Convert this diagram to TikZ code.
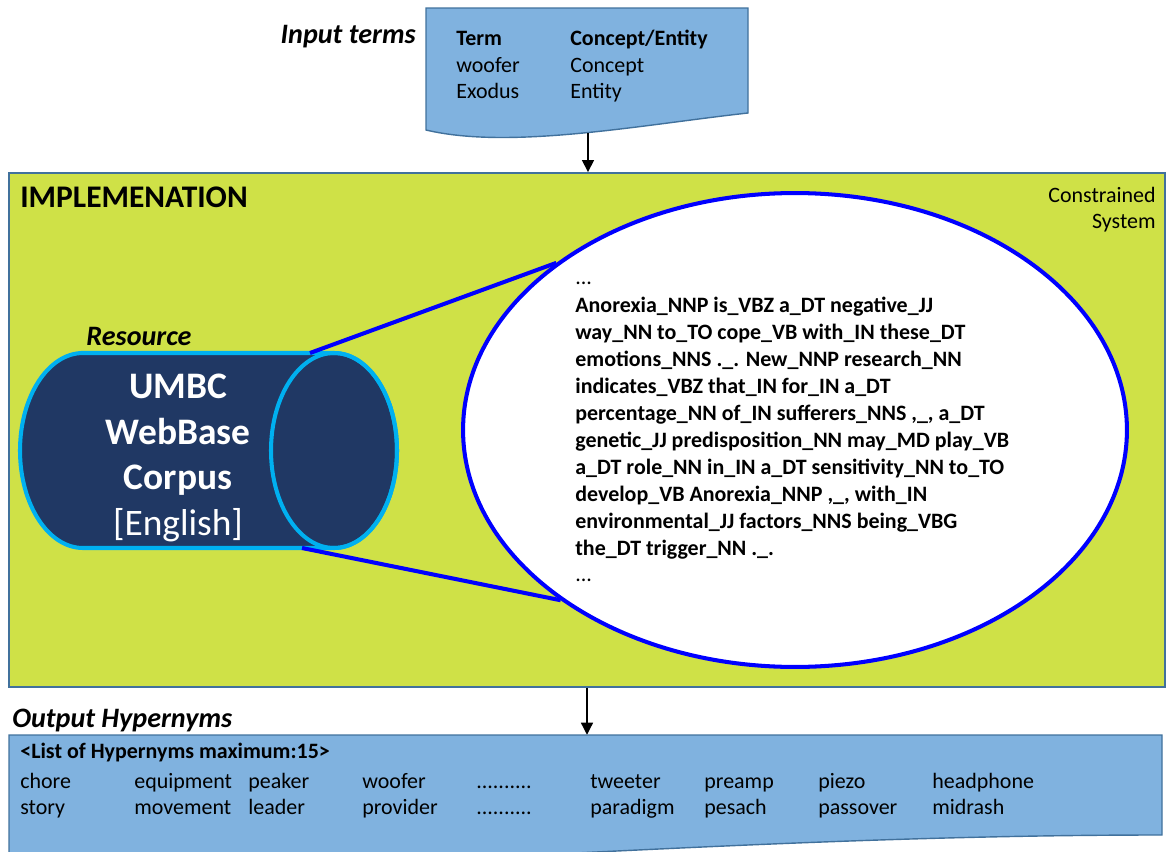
\documentclass[tikz,border=0pt]{standalone}
\usepackage{fontspec}
\setmainfont{Carlito}
\usetikzlibrary{shapes.geometric}
\usetikzlibrary{arrows.meta}
\definecolor{docblue}{RGB}{128,178,223}
\definecolor{edgeblue}{RGB}{65,113,156}
\definecolor{limefill}{RGB}{207,225,71}
\definecolor{corpusnavy}{RGB}{32,56,100}
\definecolor{rimcyan}{RGB}{0,176,240}
\definecolor{zoomblue}{RGB}{0,0,255}
\tikzstyle{txt}=[inner sep=0pt, anchor=base west, font=\fontsize{12.5}{15}\selectfont]
\tikzstyle{btxt}=[txt, font=\fontsize{12.5}{15}\selectfont\bfseries]
\tikzstyle{lbl}=[inner sep=0pt, anchor=base west, font=\fontsize{16}{19}\selectfont\bfseries\itshape]
\tikzstyle{flow}=[-{Triangle[length=7pt,width=6.5pt]}, line width=1.7pt, black]
\tikzstyle{wave}=[fill=docblue, draw=edgeblue, line width=0.8pt]

\begin{document}
\begin{tikzpicture}[x=0.02cm, y=0.02cm]
        \useasboundingbox (0,0) rectangle (1167,-852);
        \clip (0,0) rectangle (1167,-852);
        % input terms
        \path[wave] (426,-8) -- (748,-8) -- (748,-113) .. controls (640,-125) and (510,-150) .. (426,-130) -- cycle;
        \node[lbl, anchor=base east] (inlbl) at (416,-43) {Input terms};
        \node[btxt] (termhd) at (456,-46) {Term};
        \node[btxt] (kindhd) at (570,-46) {Concept/Entity};
        \node[txt] (term1) at (456,-72) {woofer};
        \node[txt] (kind1) at (570,-72) {Concept};
        \node[txt] (term2) at (456,-98) {Exodus};
        \node[txt] (kind2) at (570,-98) {Entity};
        \coordinate (docout) at (588,-133);
        % implementation
        \node[draw=edgeblue, fill=limefill, line width=0.8pt, inner sep=0pt, minimum width=23.12cm, minimum height=10.28cm] (impl) at (587,-430) {};
        \draw[flow] (docout) -- (docout |- impl.north);
        \node[inner sep=0pt, anchor=base west, font=\fontsize{17.9}{21}\selectfont\bfseries] (impltitle) at (20,-207) {IMPLEMENATION};
        \node[txt, anchor=base east] (cons1) at (1156,-202) {Constrained};
        \node[txt, anchor=base east] (cons2) at (1156,-228) {System};
        % resource
        \node[lbl, anchor=base] (reslbl) at (139,-345) {Resource};
        \path[fill=corpusnavy, draw=rimcyan, line width=2.3pt] (83,-353) -- (334,-353) arc[start angle=90, end angle=-90, x radius=63, y radius=97.5] -- (83,-548) arc[start angle=270, end angle=90, x radius=63, y radius=97.5] -- cycle;
        \draw[rimcyan, line width=2.3pt] (334,-450.5) ellipse[x radius=63, y radius=97.5];
        \node[text=white, align=center, inner sep=0pt, font=\fontsize{21.3}{26.1}\selectfont\bfseries] (corpus) at (178,-458) {UMBC\\WebBase\\Corpus\\{\mdseries [English]}};
        \coordinate (cyltop) at (310,-353);
        \coordinate (cylbot) at (302,-548);
        % tagged text
        \node[ellipse, draw=zoomblue, fill=white, line width=2.3pt, inner sep=0pt, minimum width=13.28cm, minimum height=9.48cm] (zoom) at (795,-430) {};
        \draw[zoomblue, line width=2.3pt] (cyltop) -- (zoom.145);
        \draw[zoomblue, line width=2.3pt] (cylbot) -- (zoom.216);
        \node[txt] (dots1) at (575,-284) {...};
        \node[btxt] (line1) at (575,-312) {Anorexia\_NNP is\_VBZ a\_DT negative\_JJ};
        \node[btxt] (line2) at (575,-339) {way\_NN to\_TO cope\_VB with\_IN these\_DT};
        \node[btxt] (line3) at (575,-366) {emotions\_NNS .\_. New\_NNP research\_NN};
        \node[btxt] (line4) at (575,-393) {indicates\_VBZ that\_IN for\_IN a\_DT};
        \node[btxt] (line5) at (575,-420) {percentage\_NN of\_IN sufferers\_NNS ,\_, a\_DT};
        \node[btxt] (line6) at (575,-447) {genetic\_JJ predisposition\_NN may\_MD play\_VB};
        \node[btxt] (line7) at (575,-474) {a\_DT role\_NN in\_IN a\_DT sensitivity\_NN to\_TO};
        \node[btxt] (line8) at (575,-501) {develop\_VB Anorexia\_NNP ,\_, with\_IN};
        \node[btxt] (line9) at (575,-528) {environmental\_JJ factors\_NNS being\_VBG};
        \node[btxt] (line10) at (575,-555) {the\_DT trigger\_NN .\_.};
        \node[txt] (dots2) at (575,-581) {...};
        % output hypernyms
        \coordinate (outtop) at (587,-735);
        \path[wave] (9,-735) -- (1162,-735) -- (1162,-835) .. controls (700,-835) and (300,-880) .. (9,-865) -- cycle;
        \draw[flow] (impl.south) -- (outtop);
        \node[lbl] (outlbl) at (12,-727) {Output Hypernyms};
        \node[btxt] (listhd) at (20,-758) {<List of Hypernyms maximum:15>};
        \node[txt] (hypa1) at (20,-788) {chore};
        \node[txt] (hypa2) at (134,-788) {equipment};
        \node[txt] (hypa3) at (248,-788) {peaker};
        \node[txt] (hypa4) at (362,-788) {woofer};
        \node[txt] (hypa5) at (476,-788) {..........};
        \node[txt] (hypa6) at (590,-788) {tweeter};
        \node[txt] (hypa7) at (704,-788) {preamp};
        \node[txt] (hypa8) at (818,-788) {piezo};
        \node[txt] (hypa9) at (932,-788) {headphone};
        \node[txt] (hypb1) at (20,-814) {story};
        \node[txt] (hypb2) at (134,-814) {movement};
        \node[txt] (hypb3) at (248,-814) {leader};
        \node[txt] (hypb4) at (362,-814) {provider};
        \node[txt] (hypb5) at (476,-814) {..........};
        \node[txt] (hypb6) at (590,-814) {paradigm};
        \node[txt] (hypb7) at (704,-814) {pesach};
        \node[txt] (hypb8) at (818,-814) {passover};
        \node[txt] (hypb9) at (932,-814) {midrash};
    \end{tikzpicture}
\end{document}
